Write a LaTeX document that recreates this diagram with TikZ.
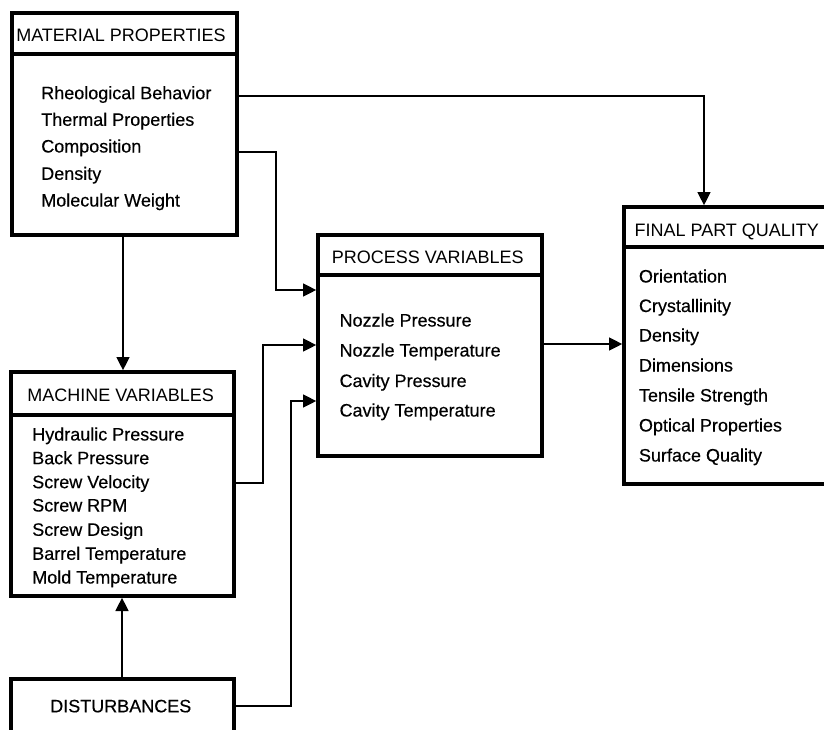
\documentclass[tikz,border=0pt]{standalone}
\usepackage{fontspec}
\setmainfont{Liberation Sans}
\newfontfamily\itemfont{Liberation Sans}[BoldFont={Liberation Sans},BoldFeatures={FakeBold=0.35}]
\usetikzlibrary{arrows.meta,fit}
\begin{document}
\begin{tikzpicture}[x=0.75pt,y=-0.75pt,
  box/.style={draw,line width=2.5pt,rectangle,inner sep=0pt},
  txt/.style={font=\fontsize{13.5}{16}\selectfont,inner sep=0pt,anchor=base west},
  itm/.style={font=\itemfont\bfseries\fontsize{13.5}{16}\selectfont,inner sep=0pt,anchor=base west},
  divider/.style={line width=2.3pt},
  conn/.style={line width=1.9pt,-{Triangle[length=10pt,width=9.5pt]}}]
\clip (0,0) rectangle (824,729);
\fill[white] (0,0) rectangle (824,729);
% boxes
\node[box,fit={(12,13) (237,235)}] (mat) {};
\node[box,fit={(11,372) (234,596)}] (mach) {};
\node[box,fit={(11,679) (234,760)}] (dist) {};
\node[box,fit={(318,235) (542,456)}] (pv) {};
\node[box,fit={(624,207) (840,484)}] (fpq) {};
% dividers
\coordinate (d1) at (0,54);
\coordinate (d2) at (0,415);
\coordinate (d3) at (0,275);
\coordinate (d4) at (0,247);
\draw[divider] (mat.west |- d1) -- (mat.east |- d1);
\draw[divider] (mach.west |- d2) -- (mach.east |- d2);
\draw[divider] (pv.west |- d3) -- (pv.east |- d3);
\draw[divider] (fpq.west |- d4) -- (fpq.east |- d4);
% texts
\node[txt] (matH) at (16,41.7) {MATERIAL PROPERTIES};
\node[itm] (m1) at (41,99.2) {Rheological Behavior};
\node[itm] (m2) at (41,125.8) {Thermal Properties};
\node[itm] (m3) at (41,152.5) {Composition};
\node[itm] (m4) at (41,179.8) {Density};
\node[itm] (m5) at (41,206.5) {Molecular Weight};
\node[txt] (machH) at (27,401.7) {MACHINE VARIABLES};
\node[itm] (a1) at (32,440.5) {Hydraulic Pressure};
\node[itm] (a2) at (32,464.2) {Back Pressure};
\node[itm] (a3) at (32,488.2) {Screw Velocity};
\node[itm] (a4) at (32,511.5) {Screw RPM};
\node[itm] (a5) at (32,535.8) {Screw Design};
\node[itm] (a6) at (32,559.8) {Barrel Temperature};
\node[itm] (a7) at (32,583.5) {Mold Temperature};
\node[itm] (distH) at (50,712.3) {DISTURBANCES};
\node[txt] (pvH) at (331.7,263.3) {PROCESS VARIABLES};
\node[itm] (p1) at (339.3,326.5) {Nozzle Pressure};
\node[itm] (p2) at (339.3,356.5) {Nozzle Temperature};
\node[itm] (p3) at (339.3,387) {Cavity Pressure};
\node[itm] (p4) at (339.3,416.5) {Cavity Temperature};
\node[txt] (fH) at (634.3,236) {FINAL PART QUALITY};
\node[itm] (f1) at (638.7,282.5) {Orientation};
\node[itm] (f2) at (638.7,312) {Crystallinity};
\node[itm] (f3) at (638.7,341.5) {Density};
\node[itm] (f4) at (638.7,371.5) {Dimensions};
\node[itm] (f5) at (638.7,401.5) {Tensile Strength};
\node[itm] (f6) at (638.7,431.5) {Optical Properties};
\node[itm] (f7) at (638.7,461.5) {Surface Quality};
% connector corners
\coordinate (c1) at (704,96);
\coordinate (c2a) at (276,152);
\coordinate (c2b) at (276,290);
\coordinate (c3) at (123,0);
\coordinate (c4a) at (263,483);
\coordinate (c4b) at (263,345);
\coordinate (c5) at (122,0);
\coordinate (c6a) at (291,706);
\coordinate (c6b) at (291,401);
\coordinate (c7) at (0,344);
% connectors
\draw[conn] (mat.east |- c1) -- (c1) -- (c1 |- fpq.north);
\draw[conn] (mat.east |- c2a) -- (c2a) -- (c2b) -- (pv.west |- c2b);
\draw[conn] (mat.south -| c3) -- (mach.north -| c3);
\draw[conn] (mach.east |- c4a) -- (c4a) -- (c4b) -- (pv.west |- c4b);
\draw[conn] (dist.north -| c5) -- (mach.south -| c5);
\draw[conn] (dist.east |- c6a) -- (c6a) -- (c6b) -- (pv.west |- c6b);
\draw[conn] (pv.east |- c7) -- (fpq.west |- c7);
\end{tikzpicture}
\end{document}
